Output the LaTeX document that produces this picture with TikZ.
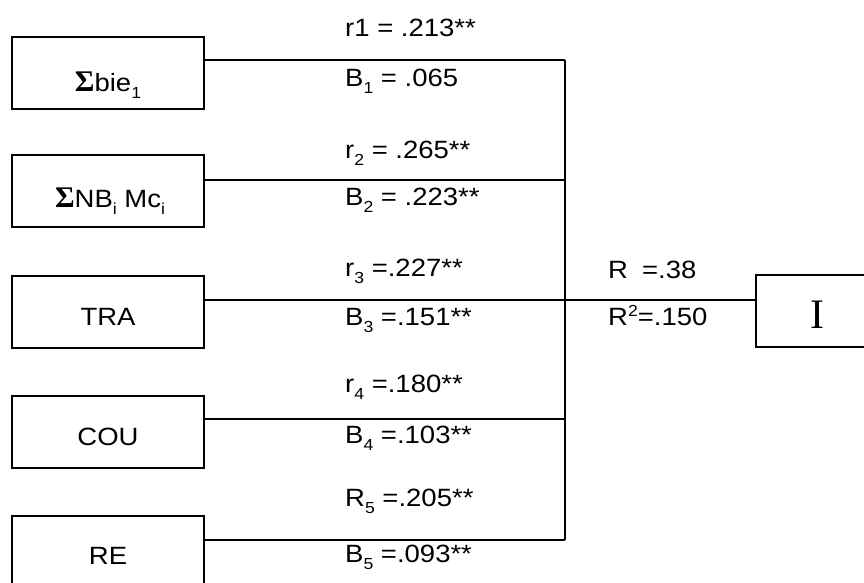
\documentclass[tikz,border=0pt]{standalone}
\usepackage{fontspec}
\setmainfont{Liberation Sans}[FakeStretch=1.1]
\newfontfamily\serif{Liberation Serif}
\newcommand{\sbx}[1]{\raisebox{-7pt}{\fontsize{16}{16}\selectfont #1}}
\newcommand{\spx}[1]{\raisebox{9pt}{\fontsize{16}{16}\selectfont #1}}
\newcommand{\sig}{{\serif\bfseries\fontsize{30}{30}\selectfont\char"03A3}}
\begin{document}
\begin{tikzpicture}[x=1pt,y=-1pt,
  box/.style={draw, line width=1.6pt, minimum width=192pt, minimum height=72pt, inner sep=0pt},
  lbl/.style={anchor=base west, inner sep=0pt},
  btxt/.style={anchor=base, inner sep=0pt},
  conn/.style={line width=1.6pt},
  every node/.style={font=\fontsize{25}{30}\selectfont}]
\useasboundingbox (0,0) rectangle (864,582);
\begin{scope}
\clip (0,0) rectangle (864,582);
% boxes
\node[box] (b1) at (108,73) {};
\node[box] (b2) at (108,191) {};
\node[box] (b3) at (108,312) {};
\node[box] (b4) at (108,432) {};
\node[box] (b5) at (108,552) {};
\node[box, minimum width=160pt] (iv) at (836,311) {};
% box texts
\node[btxt] (t1) at (108,91) {\sig bie\sbx{1}};
\node[btxt] (t2) at (110,207) {\sig NB\sbx{i} Mc\sbx{i}};
\node[btxt] (t3) at (108,325) {TRA};
\node[btxt] (t4) at (108,445) {COU};
\node[btxt] (t5) at (108,564) {RE};
\node[btxt, font={\serif\fontsize{42}{42}\selectfont}] (ti) at (817,328) {I};
% junctions
\coordinate (j1) at (565,60);
\coordinate (j2) at (565,180);
\coordinate (j3) at (565,300);
\coordinate (j4) at (565,419);
\coordinate (j5) at (565,540);
% connectors
\draw[conn] (b1.east |- j1) -- (j1);
\draw[conn] (b2.east |- j2) -- (j2);
\draw[conn] (b3.east |- j3) -- (j3) -- (iv.west |- j3);
\draw[conn] (b4.east |- j4) -- (j4);
\draw[conn] (b5.east |- j5) -- (j5);
\draw[conn] (j1) -- (j5);
% labels
\node[lbl] (r1) at (345,36) {r1 = .213**};
\node[lbl] (B1) at (345,86) {B\sbx{1} = .065};
\node[lbl] (r2) at (345,158) {r\sbx{2} = .265**};
\node[lbl] (B2) at (345,205) {B\sbx{2} = .223**};
\node[lbl] (r3) at (345,276) {r\sbx{3} =.227**};
\node[lbl] (B3) at (345,325) {B\sbx{3} =.151**};
\node[lbl] (r4) at (345,392) {r\sbx{4} =.180**};
\node[lbl] (B4) at (345,443) {B\sbx{4} =.103**};
\node[lbl] (r5) at (345,506) {R\sbx{5} =.205**};
\node[lbl] (B5) at (345,562) {B\sbx{5} =.093**};
\node[lbl] (R) at (608,278) {R\hspace{14pt}=.38};
\node[lbl] (R2) at (608,325) {R\spx{2}=.150};
\end{scope}
\end{tikzpicture}
\end{document}
